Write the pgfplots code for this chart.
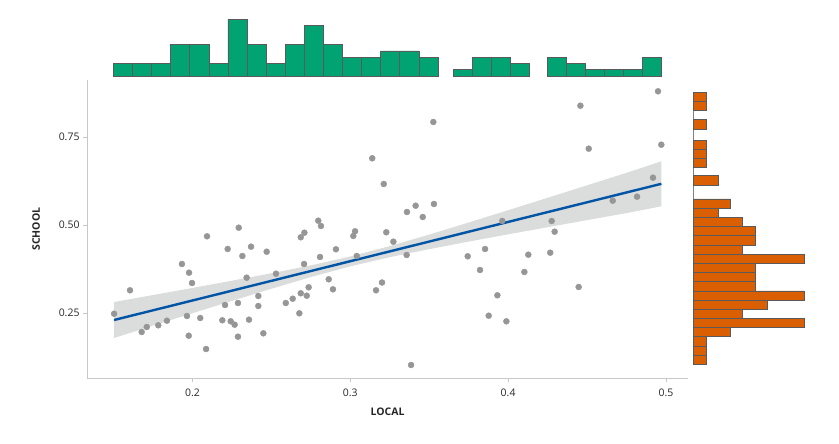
\documentclass[border=0pt]{standalone}
\usepackage{fontspec}
\setmainfont{Open Sans}
\usepackage{pgfplots}
\pgfplotsset{compat=1.18}
\definecolor{histgreen}{RGB}{2,163,115}
\definecolor{historange}{RGB}{217,95,2}
\definecolor{edgegray}{RGB}{90,90,90}
\definecolor{axgray}{RGB}{200,200,200}
\definecolor{ptgray}{RGB}{150,150,150}
\definecolor{bandgray}{RGB}{219,220,220}
\definecolor{regblue}{RGB}{0,84,166}
\begin{document}
\begin{tikzpicture}
\useasboundingbox (0,0) rectangle (839bp,444bp);
% main scatter axis
\begin{axis}[
  at={(87bp,66bp)}, anchor=south west,
  width=601bp, height=298bp, scale only axis,
  xmin=0.13314, xmax=0.5140, ymin=0.06534, ymax=0.9119,
  axis x line*=bottom, axis y line*=left,
  axis line style={-, draw=axgray, line width=0.9bp},
  xtick={0.2,0.3,0.4,0.5}, xticklabels={0.2,0.3,0.4,0.5},
  ytick={0.25,0.5,0.75}, yticklabels={0.25,0.50,0.75},
  tick align=outside, major tick length=4bp,
  tick style={draw=axgray, line width=0.6bp},
  tick label style={font=\fontsize{10.5}{12}\selectfont, text=black!85},
  xticklabel style={yshift=-3bp},
  xlabel={\bfseries LOCAL}, ylabel={\bfseries SCHOOL},
  label style={font=\fontsize{10.5}{12}\selectfont, text=black!85},
  xlabel style={yshift=-5bp},
  ylabel style={yshift=12bp},
  clip=false,
]
\addplot[fill=bandgray, draw=none] coordinates {
 (0.1503,0.2812) (0.175,0.3011) (0.2,0.3212) (0.225,0.3418) (0.25,0.3629)
 (0.275,0.3853) (0.3,0.4105) (0.325,0.4400) (0.35,0.4728) (0.375,0.5070)
 (0.4,0.5420) (0.425,0.5772) (0.45,0.6126) (0.475,0.6482) (0.4971,0.6810)
 (0.4971,0.5530) (0.475,0.5338) (0.45,0.5138) (0.425,0.4936) (0.4,0.4734)
 (0.375,0.4528) (0.35,0.4314) (0.325,0.4086) (0.3,0.3825) (0.275,0.3521)
 (0.25,0.3189) (0.225,0.2844) (0.2,0.2494) (0.175,0.2141) (0.1503,0.1790)
} --cycle;
\addplot[only marks, mark=*, mark size=3bp, color=ptgray] coordinates {
 (0.1503,0.2480) (0.1604,0.3145) (0.1678,0.1960) (0.1710,0.2102) (0.1783,0.2151)
 (0.1838,0.2281) (0.1933,0.3892) (0.1978,0.3645) (0.1997,0.3352) (0.1965,0.2415)
 (0.1976,0.1855) (0.2049,0.2358) (0.2092,0.4679) (0.2086,0.1477) (0.2206,0.2727)
 (0.2189,0.2293) (0.2223,0.4318) (0.2242,0.2264) (0.2267,0.2168) (0.2288,0.1827)
 (0.2288,0.2784) (0.2293,0.4923) (0.2316,0.4119) (0.2343,0.3503) (0.2371,0.4384)
 (0.2358,0.2310) (0.2417,0.2983) (0.2417,0.2699) (0.2449,0.1923) (0.2470,0.4241)
 (0.2529,0.3616) (0.2591,0.2784) (0.2635,0.2906) (0.2677,0.2491) (0.2686,0.3060)
 (0.2724,0.2991) (0.2736,0.3230) (0.2686,0.4651) (0.2709,0.4781) (0.2707,0.3892)
 (0.2797,0.5122) (0.2814,0.4972) (0.2808,0.4091) (0.2863,0.3457) (0.2890,0.3173)
 (0.2909,0.4310) (0.3019,0.4688) (0.3030,0.4821) (0.3041,0.4119) (0.3163,0.3145)
 (0.3201,0.3366)
 (0.4950,0.8798) (0.4458,0.8389) (0.3526,0.7926) (0.4971,0.7281) (0.4511,0.7168)
 (0.3139,0.6895) (0.3212,0.6165) (0.4918,0.6344) (0.4817,0.5804) (0.4663,0.5690)
 (0.3530,0.5597) (0.3414,0.5548) (0.3359,0.5369) (0.3459,0.5227) (0.4276,0.5114)
 (0.3963,0.5114) (0.4295,0.4810) (0.3228,0.4793) (0.3273,0.4526) (0.3357,0.4148)
 (0.3744,0.4111) (0.3854,0.4318) (0.4267,0.4213) (0.4128,0.4156) (0.3822,0.3722)
 (0.4103,0.3665) (0.3932,0.3003) (0.3877,0.2423) (0.3989,0.2264) (0.4447,0.3239)
 (0.3385,0.1023)
};
\addplot[regblue, line width=2.4bp] coordinates {(0.1503,0.2301) (0.4971,0.6170)};
\end{axis}
% top marginal histogram
\begin{axis}[
  at={(87bp,368bp)}, anchor=south west,
  width=601bp, height=59.85bp, scale only axis,
  xmin=0.13314, xmax=0.5140, ymin=0, ymax=9.5,
  hide axis, clip=false,
]
\addplot[ybar interval, fill=histgreen, draw=edgegray, line width=0.5bp] coordinates {
 (0.1498,2) (0.1619,2) (0.1740,2) (0.1861,5) (0.1982,5) (0.2103,2) (0.2224,9)
 (0.2345,5) (0.2466,2) (0.2587,5) (0.2708,8) (0.2829,5) (0.2950,3) (0.3071,3)
 (0.3192,4) (0.3313,4) (0.3434,3) (0.3555,0)
};
\addplot[ybar interval, fill=histgreen, draw=edgegray, line width=0.5bp] coordinates {
 (0.3653,1) (0.3773,3) (0.3894,3) (0.4014,2) (0.4134,0)
};
\addplot[ybar interval, fill=histgreen, draw=edgegray, line width=0.5bp] coordinates {
 (0.4250,3) (0.4370,2) (0.4491,1) (0.4612,1) (0.4732,1) (0.4853,3) (0.4973,0)
};
\end{axis}
% right marginal histogram
\begin{axis}[
  at={(693.5bp,66bp)}, anchor=south west,
  width=116.4bp, height=298bp, scale only axis,
  xmin=0, xmax=9.5, ymin=0.06534, ymax=0.9119,
  hide axis, clip=false,
]
\addplot[gray, line width=0.9bp] coordinates {(0,0.1043) (0,0.8770)};
\addplot[xbar interval, fill=historange, draw=edgegray, line width=0.5bp] coordinates {
 (1,0.1043) (1,0.1304) (1,0.1565) (3,0.1826) (9,0.2087) (4,0.2348) (6,0.2608)
 (9,0.2869) (5,0.3130) (5,0.3391) (5,0.3652) (9,0.3913) (4,0.4174) (5,0.4435)
 (5,0.4696) (4,0.4957) (2,0.5218) (3,0.5478) (0,0.5739)
};
\addplot[xbar interval, fill=historange, draw=edgegray, line width=0.5bp] coordinates {
 (2,0.6136) (0,0.6401)
};
\addplot[xbar interval, fill=historange, draw=edgegray, line width=0.5bp] coordinates {
 (1,0.6639) (1,0.6897) (1,0.7155) (0,0.7413)
};
\addplot[xbar interval, fill=historange, draw=edgegray, line width=0.5bp] coordinates {
 (1,0.7727) (0,0.7991)
};
\addplot[xbar interval, fill=historange, draw=edgegray, line width=0.5bp] coordinates {
 (1,0.8267) (1,0.8519) (0,0.8770)
};
\end{axis}
\end{tikzpicture}
\end{document}
